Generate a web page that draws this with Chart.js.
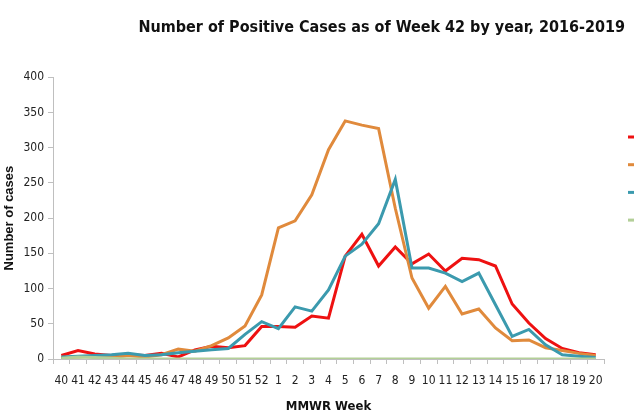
<!DOCTYPE html>
<html>
<head>
<meta charset="utf-8">
<script src="https://cdn.jsdelivr.net/npm/chart.js@4.4.1/dist/chart.umd.min.js"></script>
<style>
  html, body { margin: 0; padding: 0; background: #fff; overflow: hidden; }
  #wrap { width: 634px; height: 416px; }
</style>
</head>
<body>
<div id="wrap"><canvas id="casesChart" width="634" height="416"></canvas></div>
<script>
// MMWR weeks 40-52, then 1-20
const weeks = ['40','41','42','43','44','45','46','47','48','49','50','51','52',
  '1','2','3','4','5','6','7','8','9','10','11','12','13','14','15','16','17','18','19','20'];

const season1617 = [5,12,7,5,6,5,8,3,13,18,16,19,46,46,45,61,58,146,177,132,159,135,149,125,143,141,132,78,51,29,15,9,6];
const season1718 = [2,3,4,2,5,3,6,14,11,19,30,47,91,186,196,233,297,338,332,327,214,115,72,103,64,71,44,26,27,16,12,8,5];
const season1819 = [3,4,5,6,8,5,6,9,11,13,15,35,53,43,74,68,98,146,163,192,255,129,129,122,110,122,77,32,42,20,6,4,2];
const season1920 = [1,3,2,1,0,0,0,0,0,0,0,0,0,0,0,0,0,0,0,0,0,0,0,0,0,0,0,0,0,0,0,0,0];

const seasonLabels = ['2016-2017', '2017-2018', '2018-2019', '2019-2020'];
const seasonColors = ['#ee1111', '#e08a3c', '#3b9aae', '#b3cf98'];

const narrow = '"Liberation Sans Narrow", "DejaVu Sans Condensed", sans-serif';

// legend sits at the right edge, mostly off the page like the original
const sideLegend = {
  id: 'sideLegend',
  afterDraw(chart) {
    const ctx = chart.ctx;
    ctx.save();
    chart.data.datasets.forEach(function(ds, i) {
      const y = 137 + i * 27.7;
      ctx.strokeStyle = ds.borderColor;
      ctx.lineWidth = 3;
      ctx.beginPath();
      ctx.moveTo(628, y);
      ctx.lineTo(648, y);
      ctx.stroke();
      ctx.fillStyle = '#333';
      ctx.font = '12px ' + narrow;
      ctx.textBaseline = 'middle';
      ctx.fillText(ds.label, 652, y);
    });
    ctx.restore();
  }
};

const seriesData = [season1617, season1718, season1819, season1920];

const ctx = document.getElementById('casesChart').getContext('2d');

new Chart(ctx, {
  type: 'line',
  data: {
    labels: weeks,
    datasets: seasonLabels.map(function(label, i) {
      return {
        label: label,
        data: seriesData[i],
        borderColor: seasonColors[i],
        backgroundColor: seasonColors[i],
        borderWidth: 3,
        pointRadius: 0,
        tension: 0,
        order: 3 - i   // later seasons drawn on top, as in the original
      };
    })
  },
  options: {
    responsive: false,
    animation: false,
    layout: { padding: { top: 0, right: 9, bottom: 0, left: 0 } },
    plugins: {
      legend: { display: false },
      tooltip: { enabled: false },
      title: {
        display: true,
        text: 'Number of Positive Cases as of Week 42 by year, 2016-2019',
        align: 'end',
        color: '#111',
        font: { family: narrow, size: 16, weight: 'bold' },
        padding: { top: 18, bottom: 40 }
      }
    },
    scales: {
      x: {
        offset: true,
        grid: { drawOnChartArea: false, offset: true, tickLength: 5, color: '#bfbfbf' },
        border: { color: '#bfbfbf' },
        ticks: { autoSkip: false, maxRotation: 0, padding: 10, color: '#222', font: { family: narrow, size: 12 } },
        title: {
          display: true,
          text: 'MMWR Week',
          color: '#111',
          font: { family: narrow, size: 13, weight: 'bold' },
          padding: { top: 0, bottom: 2 }
        }
      },
      y: {
        min: 0,
        max: 400,
        afterFit: function(scale) { scale.width = 53; },
        grid: { drawOnChartArea: false, tickLength: 5, color: '#bfbfbf' },
        border: { color: '#bfbfbf' },
        ticks: { stepSize: 50, padding: 4, color: '#222', font: { family: narrow, size: 12 } },
        title: {
          display: true,
          text: 'Number of cases',
          color: '#111',
          font: { family: '"Liberation Sans", Arial, sans-serif', size: 13, weight: 'bold' },
          padding: { top: 2, bottom: 4 }
        }
      },
      // keeps free space on the right for the legend
      spacer: {
        position: 'right',
        afterFit: function(scale) { scale.width = 21; },
        grid: { display: false },
        border: { display: false },
        ticks: { display: false }
      }
    }
  },
  plugins: [sideLegend]
});
</script>
</body>
</html>
